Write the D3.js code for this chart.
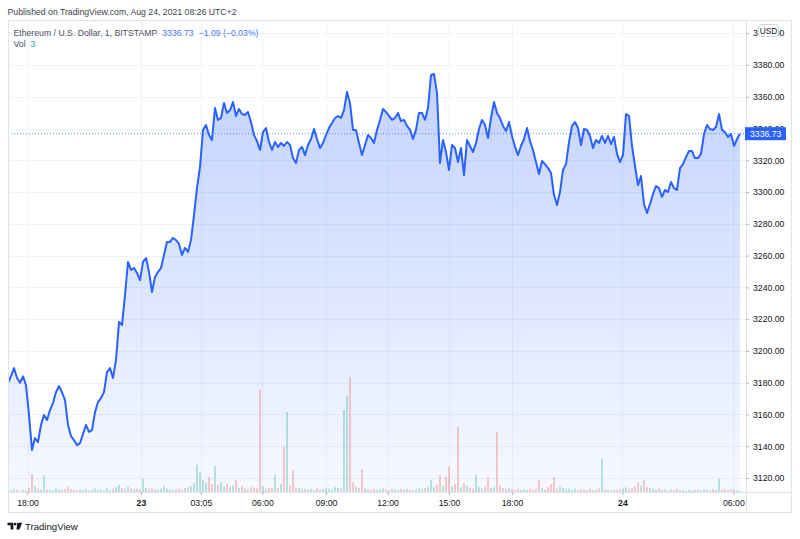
<!DOCTYPE html>
<html><head><meta charset="utf-8">
<script src="https://cdn.jsdelivr.net/npm/d3@7"></script>
<style>
html,body{margin:0;padding:0;background:#fff;}
svg{display:block;font-family:"Liberation Sans",Arial,sans-serif;}
</style>
</head><body>
<svg id="chart" width="800" height="539"></svg>
<script>
// ---------- DATA ----------
const prices = [
3179.8,3184.2,3189.2,3183.0,3180.0,3184.0,3178.5,3159.6,3137.6,3145.2,
3142.6,3153.4,3159.7,3156.5,3162.8,3167.2,3174.1,3177.9,3174.0,3169.0,
3153.4,3146.4,3143.9,3140.7,3142.0,3147.7,3153.4,3149.0,3150.2,3161.5,
3167.8,3170.3,3174.1,3186.7,3189.2,3183.0,3194.3,3218.2,3216.3,3235.2,
3256.0,3251.0,3252.2,3249.1,3244.6,3256.0,3258.5,3249.7,3237.1,3246.5,
3249.7,3252.2,3260.4,3268.6,3268.6,3271.1,3269.8,3267.3,3260.4,3264.8,
3262.3,3269.8,3285.5,3302.5,3315.8,3339.1,3342.2,3335.9,3332.8,3352.9,
3345.4,3346.6,3356.1,3349.8,3351.6,3356.7,3347.9,3352.3,3349.1,3348.5,
3350.4,3344.1,3335.9,3332.1,3326.5,3337.8,3340.3,3331.5,3326.5,3331.5,
3328.4,3330.9,3329.0,3331.5,3329.6,3321.4,3318.3,3326.5,3328.4,3323.3,
3329.6,3333.4,3339.7,3333.4,3327.7,3330.9,3335.9,3340.3,3343.5,3346.6,
3347.9,3346.6,3351.6,3363.0,3356.1,3339.1,3339.1,3330.9,3323.3,3329.6,
3335.9,3334.0,3330.9,3339.1,3345.4,3352.3,3350.4,3347.9,3345.4,3346.6,
3349.8,3344.7,3345.4,3341.6,3339.1,3333.4,3339.1,3349.8,3349.8,3345.4,
3352.9,3373.7,3374.3,3362.3,3318.3,3332.8,3325.2,3313.9,3329.6,3327.7,
3318.9,3327.7,3310.7,3332.8,3329.0,3325.2,3330.9,3339.7,3345.4,3342.2,
3334.0,3346.6,3356.7,3349.8,3346.6,3341.6,3338.4,3344.1,3335.3,3328.4,
3323.3,3329.0,3333.4,3340.3,3332.1,3326.5,3318.9,3311.4,3319.5,3317.6,
3315.1,3312.0,3298.1,3291.8,3300.0,3313.9,3317.6,3331.5,3341.6,3344.1,
3340.3,3329.6,3339.7,3339.1,3335.3,3327.7,3332.8,3330.9,3335.3,3330.9,
3335.3,3330.2,3334.7,3324.0,3318.9,3323.3,3349.1,3347.9,3329.0,3316.4,
3304.4,3310.1,3292.5,3286.8,3292.5,3298.8,3303.8,3302.5,3296.9,3301.3,
3300.0,3306.3,3302.5,3301.3,3315.1,3317.6,3322.0,3325.8,3325.8,3321.4,
3321.4,3324.0,3336.5,3342.2,3339.7,3339.1,3340.9,3349.1,3339.1,3337.8,
3334.7,3336.5,3329.0,3333.4,3336.73
];
const volumes = [
6,4,8,5,3,6,4,10,45,14,
8,6,42,7,5,4,9,6,5,8,
12,7,5,4,6,5,8,4,6,9,
5,7,4,10,6,8,12,18,10,8,
14,9,7,8,6,33,10,8,12,7,
6,9,14,8,6,5,7,9,6,10,
12,15,22,68,50,30,24,38,20,65,
18,25,14,20,12,16,30,10,14,9,
8,12,10,9,255,14,8,10,12,43,
10,20,113,200,16,55,12,10,8,7,
6,8,5,10,6,7,9,8,6,12,
10,9,205,240,288,24,14,10,58,9,
7,6,8,5,7,9,6,4,8,6,
5,7,6,8,5,4,6,9,7,10,
14,30,12,18,43,16,38,63,14,20,
163,12,22,16,10,8,43,12,9,14,
38,10,12,150,15,9,8,10,7,6,
8,5,7,6,9,5,8,30,10,6,
12,20,38,8,14,10,7,9,6,8,
5,7,6,4,8,5,6,9,83,6,
5,4,6,5,7,9,12,8,10,14,
25,16,30,12,10,8,6,9,5,7,
4,6,5,8,4,5,3,6,4,5,
6,4,8,5,4,7,5,33,6,8,
5,7,6,4,3
];
const timeTickLabels = ["18:00","23","03:05","06:00","09:00","12:00","15:00","18:00","24","06:00"];
const timeTickBars   = [6.5, 44.3, 64.3, 84.8, 106, 126.5, 147, 168, 204.8, 241.8];
const priceTicks = [3120,3140,3160,3180,3200,3220,3240,3260,3280,3300,3320,3340,3360,3380,3400];
const headerText = "Published on TradingView.com, Aug 24, 2021 08:26 UTC+2";
const symbolText = "Ethereum / U.S. Dollar, 1, BITSTAMP";
const lastPrice = 3336.73, priceChange = -1.09, changePct = -0.03;
const lastVolume = volumes[volumes.length - 1];

// ---------- LAYOUT ----------
const W = 800, H = 539;
const box = {l: 8, t: 20, r: 792, b: 513};
const plotR = 746, plotB = 492;
const blue = "#2962ff", upCol = "rgba(38,166,154,0.5)", downCol = "rgba(239,83,80,0.5)";
const gridCol = "#f0f3fa", borderCol = "#e0e3eb", textCol = "#131722";
const fs = 8.7;

const svg = d3.select("#chart");
svg.append("rect").attr("width", W).attr("height", H).attr("fill", "#fff");

const x = d3.scaleLinear().domain([0, 246]).range([box.l, plotR]);
const y = d3.scaleLinear().domain([3111.2, 3408.3]).range([plotB, box.t]);
const v = d3.scaleLinear().domain([0, 350]).range([plotB, plotB - 140]);

const defs = svg.append("defs");
defs.append("clipPath").attr("id", "plotClip").append("rect")
  .attr("x", box.l).attr("y", box.t).attr("width", plotR - box.l).attr("height", plotB - box.t);
const grad = defs.append("linearGradient").attr("id", "areaGrad")
  .attr("gradientUnits", "userSpaceOnUse").attr("x1", 0).attr("x2", 0)
  .attr("y1", y(d3.max(prices))).attr("y2", plotB);
grad.append("stop").attr("offset", 0).attr("stop-color", blue).attr("stop-opacity", 0.28);
grad.append("stop").attr("offset", 1).attr("stop-color", blue).attr("stop-opacity", 0.04);

// header
svg.append("text").attr("x", 7.5).attr("y", 14.7).attr("font-size", fs).attr("fill", "#3c414d").text(headerText);

// grid
const grid = svg.append("g");
grid.selectAll("line.h").data(priceTicks).join("line")
  .attr("x1", box.l).attr("x2", plotR).attr("y1", d => Math.round(y(d)) + 0.5).attr("y2", d => Math.round(y(d)) + 0.5)
  .attr("stroke", gridCol);
grid.selectAll("line.v").data(timeTickBars).join("line")
  .attr("y1", box.t).attr("y2", plotB).attr("x1", d => Math.round(x(d)) + 0.5).attr("x2", d => Math.round(x(d)) + 0.5)
  .attr("stroke", gridCol);

const plot = svg.append("g").attr("clip-path", "url(#plotClip)");

// area
plot.append("path").datum(prices)
  .attr("d", d3.area().x((d, i) => x(i)).y0(plotB).y1(d => y(d)))
  .attr("fill", "url(#areaGrad)");

// volume
plot.append("g").selectAll("rect").data(volumes).join("rect")
  .attr("x", (d, i) => x(i) - 0.6).attr("width", 1.2)
  .attr("y", d => v(d)).attr("height", d => plotB - v(d))
  .attr("fill", (d, i) => (i === 0 || prices[i] >= prices[i - 1]) ? upCol : downCol);

// last price dotted line
plot.append("line").attr("x1", box.l).attr("x2", plotR)
  .attr("y1", y(lastPrice)).attr("y2", y(lastPrice))
  .attr("stroke", blue).attr("stroke-opacity", 0.7).attr("stroke-dasharray", "1,2");

// line
plot.append("path").datum(prices)
  .attr("d", d3.line().x((d, i) => x(i)).y(d => y(d)))
  .attr("fill", "none").attr("stroke", blue).attr("stroke-width", 2).attr("stroke-linejoin", "round");

// box and separators
svg.append("rect").attr("x", box.l + 0.5).attr("y", box.t + 0.5)
  .attr("width", box.r - box.l - 1).attr("height", box.b - box.t - 1)
  .attr("fill", "none").attr("stroke", borderCol);
svg.append("line").attr("x1", plotR + 0.5).attr("x2", plotR + 0.5).attr("y1", box.t).attr("y2", box.b).attr("stroke", borderCol);
svg.append("line").attr("x1", box.l).attr("x2", box.r).attr("y1", plotB + 0.5).attr("y2", plotB + 0.5).attr("stroke", borderCol);

// price axis
const yAxis = svg.append("g").attr("transform", `translate(${plotR},0)`)
  .call(d3.axisRight(y).tickValues(priceTicks).tickFormat(d3.format(".2f")).tickSize(3).tickPadding(4));
yAxis.select(".domain").remove();
yAxis.selectAll(".tick line").attr("stroke", "#b2b5be");
yAxis.selectAll("text").attr("font-size", fs).attr("fill", textCol).attr("font-family", null);

// time axis
const xAxis = svg.append("g").attr("transform", `translate(0,${plotB})`)
  .call(d3.axisBottom(x).tickValues(timeTickBars).tickFormat((d, i) => timeTickLabels[i]).tickSize(3).tickPadding(5));
xAxis.select(".domain").remove();
xAxis.selectAll(".tick line").attr("stroke", "#b2b5be");
xAxis.selectAll("text").attr("font-size", fs).attr("fill", textCol).attr("font-family", null)
  .attr("font-weight", (d, i) => timeTickLabels[i].includes(":") ? "normal" : "bold");

// USD badge
svg.append("rect").attr("x", 758.5).attr("y", 24.5).attr("width", 20).attr("height", 12).attr("rx", 3)
  .attr("fill", "#fff").attr("stroke", "#d1d4dc");
svg.append("text").attr("x", 768.5).attr("y", 33.6).attr("text-anchor", "middle")
  .attr("font-size", 8.4).attr("fill", textCol).text("USD");

// last price badge
svg.append("rect").attr("x", plotR - 1).attr("y", y(lastPrice) - 6.5).attr("width", 41).attr("height", 13)
  .attr("fill", blue);
svg.append("text").attr("x", plotR + 4).attr("y", y(lastPrice) + 3.1)
  .attr("font-size", fs).attr("fill", "#fff").text(d3.format(".2f")(lastPrice));

// legend
const fmtSigned = d => (d < 0 ? "\u2212" : "+") + d3.format(".2f")(Math.abs(d));
const leg = svg.append("text").attr("x", 13.5).attr("y", 35.5).attr("font-size", fs);
leg.append("tspan").attr("fill", "#4a4f5c").text(symbolText);
leg.append("tspan").attr("fill", "#4a78f0").attr("dx", 5).text(d3.format(".2f")(lastPrice));
leg.append("tspan").attr("fill", "#4a78f0").attr("dx", 5)
  .text(`${fmtSigned(priceChange)} (${fmtSigned(changePct)}%)`);
const vleg = svg.append("text").attr("x", 13.5).attr("y", 46.7).attr("font-size", fs);
vleg.append("tspan").attr("fill", "#4a4f5c").text("Vol");
vleg.append("tspan").attr("fill", "#26a69a").attr("dx", 5).text(lastVolume);

// TradingView logo
const logo = svg.append("g").attr("fill", textCol);
logo.append("path").attr("d", "M7.5,522.8 H13.4 V529.6 H10.6 V525.2 H7.5 Z");
logo.append("circle").attr("cx", 15.2).attr("cy", 524.1).attr("r", 1.35);
logo.append("path").attr("d", "M17.4,522.8 H22.2 L19.4,529.6 H16.4 Z");
svg.append("text").attr("x", 25).attr("y", 529.6).attr("font-size", 9.6).attr("fill", textCol).text("TradingView");
</script>
</body></html>
